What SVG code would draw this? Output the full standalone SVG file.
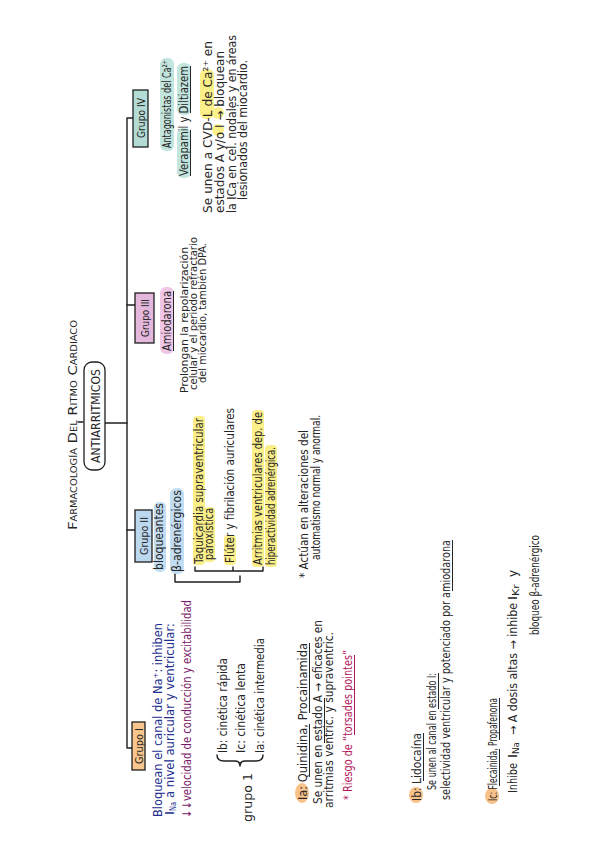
<svg xmlns="http://www.w3.org/2000/svg" width="600" height="848" viewBox="0 0 600 848">
<style>
.t{font-family:"Liberation Sans Narrow","DejaVu Sans Condensed","Liberation Sans",sans-serif;font-size:12px;fill:#262626}
.s{font-size:10.5px}
.sb{font-size:8px}
.b{fill:#23308e}
.p{fill:#7a1c69}
.m{fill:#b3175c}
.ln{stroke:#1e1e1e;stroke-width:1.4;fill:none;stroke-linecap:round;stroke-linejoin:round}
.ul{stroke:#262626;stroke-width:1;fill:none}
.ulm{stroke:#b3175c;stroke-width:1;fill:none}
.box{stroke:#1e1e1e;stroke-width:1.3}
.hy{fill:#fbef8a}
.hb{fill:#c3ddf2}
.ht{fill:#c2e5dd}
.hp{fill:#efc6e6}
.ho{fill:#f8c28a}
</style>
<rect width="600" height="848" fill="#ffffff"/>
<g transform="matrix(0 -1 1 0 0 848)">
  <g id="connectors">
    <path class="ln" d="M100,132 V127 H730 V133"/>
    <path class="ln" d="M425,105 V127"/>
    <path class="ln" d="M426,78 V83"/>
    <path class="ln" d="M318,127 V135"/>
    <path class="ln" d="M543,127 V135"/>
    <path class="ln" d="M275,175 H266 V240 H272"/>
    <path class="ln" d="M281,195 H277 V263 H281 M277,233 H281"/>
    <path class="ln" d="M93,217 Q87,217 87,224 L87,235 Q87,240 82,240 Q87,240 87,245 L87,256 Q87,263 93,263"/>
  </g>
  <g id="title">
    <text class="t" x="318" y="77" font-size="16" textLength="210" lengthAdjust="spacingAndGlyphs" style="font-variant:small-caps">Farmacología Del Ritmo Cardiaco</text>
  </g>
  <g id="antiarritmicos">
    <rect x="378" y="84" width="108" height="21" rx="8" fill="#ffffff" class="box"/>
    <text class="t" x="385" y="99.5" font-size="13" textLength="94" lengthAdjust="spacingAndGlyphs">ANTIARRITMICOS</text>
  </g>
  <g id="grupo4">
    <rect x="701" y="133" width="57" height="15" fill="#b4dcd4" class="box"/>
    <text class="t s" x="710" y="144.5" textLength="40" lengthAdjust="spacingAndGlyphs">Grupo IV</text>
    <rect class="ht" x="697" y="160" width="93" height="14" rx="6"/>
    <text class="t" x="700" y="171" textLength="88" lengthAdjust="spacingAndGlyphs">Antagonistas del Ca²⁺</text>
    <rect class="ht" x="670" y="177" width="50" height="14" rx="6"/>
    <rect class="ht" x="733" y="177" width="52" height="14" rx="6"/>
    <text class="t" x="672" y="188" textLength="110" lengthAdjust="spacingAndGlyphs">Verapamil y Diltiazem</text>
    <path class="ul" d="M672,190.5 H718 M735,190.5 H782"/>
    <rect class="hy" x="729" y="200" width="50" height="14" rx="6"/>
    <ellipse class="hy" cx="718" cy="218" rx="6" ry="6"/>
    <ellipse class="hy" cx="735" cy="218" rx="6" ry="6"/>
    <text class="t" x="635" y="212" font-size="11.5" textLength="172" lengthAdjust="spacingAndGlyphs">Se unen a CVD-L de Ca²⁺ en</text>
    <text class="t" x="635" y="224" font-size="11.5" textLength="162" lengthAdjust="spacingAndGlyphs">estados A y/o I → bloquean</text>
    <text class="t" x="635" y="236" font-size="11.5" textLength="178" lengthAdjust="spacingAndGlyphs">la ICa en cel. nodales y en áreas</text>
    <text class="t" x="648" y="247" font-size="11.5" textLength="140" lengthAdjust="spacingAndGlyphs">lesionados del miocardio.</text>
  </g>
  <g id="grupo3">
    <rect x="505" y="135" width="50" height="19" fill="#e4b7dc" class="box"/>
    <text class="t s" x="511" y="148.5" textLength="38" lengthAdjust="spacingAndGlyphs">Grupo III</text>
    <rect class="hp" x="494" y="160" width="67" height="14" rx="6"/>
    <text class="t" x="497" y="171" textLength="60" lengthAdjust="spacingAndGlyphs">Amiodarona</text>
    <path class="ul" d="M497,173.5 H557"/>
    <text class="t s" x="455" y="188" textLength="146" lengthAdjust="spacingAndGlyphs">Prolongan la repolarización</text>
    <text class="t s" x="458" y="197" textLength="153" lengthAdjust="spacingAndGlyphs">celular y el periodo refractario</text>
    <text class="t s" x="465" y="206" textLength="140" lengthAdjust="spacingAndGlyphs">del miocardio, también DPA.</text>
  </g>
  <g id="grupo2">
    <rect x="286" y="135" width="52" height="17" fill="#bcd8ef" class="box"/>
    <text class="t s" x="293" y="147.5" textLength="38" lengthAdjust="spacingAndGlyphs">Grupo II</text>
    <rect class="hb" x="276" y="154" width="70" height="12" rx="5"/>
    <rect class="hb" x="274" y="170" width="86" height="14" rx="6"/>
    <text class="t" x="278" y="163" textLength="67" lengthAdjust="spacingAndGlyphs" fill="#1f2d6a">bloqueantes</text>
    <text class="t" x="276" y="181" textLength="82" lengthAdjust="spacingAndGlyphs">β-adrenérgicos</text>
    <rect class="hy" x="283" y="193" width="149" height="12" rx="4"/>
    <rect class="hy" x="286" y="204" width="55" height="11" rx="4"/>
    <text class="t" x="284" y="203" textLength="146" lengthAdjust="spacingAndGlyphs">Taquicardia supraventricular</text>
    <text class="t" x="288" y="213" textLength="52" lengthAdjust="spacingAndGlyphs">paroxística</text>
    <rect class="hy" x="283" y="224" width="30" height="12" rx="4"/>
    <text class="t" x="285" y="234" textLength="155" lengthAdjust="spacingAndGlyphs">Flúter y fibrilación auriculares</text>
    <rect class="hy" x="281" y="252" width="157" height="12" rx="4"/>
    <rect class="hy" x="281" y="265" width="122" height="12" rx="4"/>
    <text class="t" x="283" y="262" textLength="153" lengthAdjust="spacingAndGlyphs">Arritmias ventriculares dep. de</text>
    <text class="t" x="283" y="275" textLength="118" lengthAdjust="spacingAndGlyphs">hiperactividad adrenérgica.</text>
    <text class="t" x="270" y="308" textLength="148" lengthAdjust="spacingAndGlyphs">* Actúan en alteraciones del</text>
    <text class="t" x="288" y="320" textLength="145" lengthAdjust="spacingAndGlyphs">automatismo normal y anormal.</text>
  </g>
  <g id="grupo1">
    <rect x="78" y="132" width="48" height="13" fill="#f8c58d" class="box"/>
    <text class="t s" x="84" y="142.5" textLength="36" lengthAdjust="spacingAndGlyphs">Grupo I</text>
    <text class="t b" x="31" y="162" textLength="194" lengthAdjust="spacingAndGlyphs">Bloquean el canal de Na⁺: inhiben</text>
    <text class="t b" x="33" y="174" textLength="4" lengthAdjust="spacingAndGlyphs">I</text>
    <text class="t b sb" x="37" y="176" textLength="9" lengthAdjust="spacingAndGlyphs">Na</text>
    <text class="t b" x="50" y="174" textLength="175" lengthAdjust="spacingAndGlyphs">a nivel auricular y ventricular:</text>
    <text class="t p" x="30" y="191" textLength="218" lengthAdjust="spacingAndGlyphs">↓↓velocidad de conducción y excitabilidad</text>
    <text class="t" x="26" y="252" textLength="49" lengthAdjust="spacingAndGlyphs">grupo 1</text>
    <text class="t" x="95" y="227" textLength="95" lengthAdjust="spacingAndGlyphs">Ib: cinética rápida</text>
    <text class="t" x="95" y="245" textLength="90" lengthAdjust="spacingAndGlyphs">Ic: cinética lenta</text>
    <text class="t" x="95" y="264" textLength="115" lengthAdjust="spacingAndGlyphs">Ia: cinética intermedia</text>
  </g>
  <g id="ia">
    <ellipse class="ho" cx="55" cy="302" rx="10" ry="7"/>
    <text class="t" x="48" y="307" textLength="157" lengthAdjust="spacingAndGlyphs">Ia: Quinidina, Procainamida</text>
    <path class="ul" d="M71,309.5 H124 M135,309.5 H205"/>
    <text class="t" x="44" y="322" textLength="184" lengthAdjust="spacingAndGlyphs">Se unen en estado A → eficaces en</text>
    <path class="ul" d="M105,324.5 H150"/>
    <text class="t" x="40" y="333" textLength="176" lengthAdjust="spacingAndGlyphs">arritmias ventric. y supraventric.</text>
    <text class="t m" x="48" y="352" textLength="150" lengthAdjust="spacingAndGlyphs">* Riesgo de “torsades pointes”</text>
    <path class="ulm" d="M113,354.5 H193"/>
  </g>
  <g id="ib">
    <ellipse class="ho" cx="53" cy="416" rx="8" ry="7"/>
    <text class="t" x="47" y="421" textLength="68" lengthAdjust="spacingAndGlyphs">Ib: Lidocaína</text>
    <path class="ul" d="M67,423.5 H115"/>
    <text class="t" x="58" y="436" textLength="117" lengthAdjust="spacingAndGlyphs">Se unen al canal en estado I:</text>
    <path class="ul" d="M139,438.5 H175"/>
    <text class="t" x="48" y="450" textLength="260" lengthAdjust="spacingAndGlyphs">selectividad ventricular y potenciado por amiodarona</text>
    <path class="ul" d="M257,452.5 H308"/>
  </g>
  <g id="ic">
    <ellipse class="ho" cx="52" cy="492" rx="8" ry="7"/>
    <text class="t" x="47" y="497" textLength="103" lengthAdjust="spacingAndGlyphs">Ic: Flecainida, Propafenona</text>
    <path class="ul" d="M62,499.5 H99 M108,499.5 H150"/>
    <text class="t" x="55" y="517" textLength="30" lengthAdjust="spacingAndGlyphs">Inhibe</text>
    <text class="t" x="90" y="517" textLength="4" lengthAdjust="spacingAndGlyphs">I</text>
    <text class="t sb" x="94" y="519" textLength="12" lengthAdjust="spacingAndGlyphs">Na</text>
    <text class="t" x="113" y="517" textLength="132" lengthAdjust="spacingAndGlyphs">→ A dosis altas → inhibe</text>
    <text class="t" x="248" y="517" textLength="4" lengthAdjust="spacingAndGlyphs">I</text>
    <text class="t sb" x="252" y="519" textLength="12" lengthAdjust="spacingAndGlyphs">Kr</text>
    <text class="t" x="271" y="517" textLength="7" lengthAdjust="spacingAndGlyphs">y</text>
    <text class="t" x="213" y="539" textLength="100" lengthAdjust="spacingAndGlyphs">bloqueo β-adrenérgico</text>
  </g>
</g>
</svg>
